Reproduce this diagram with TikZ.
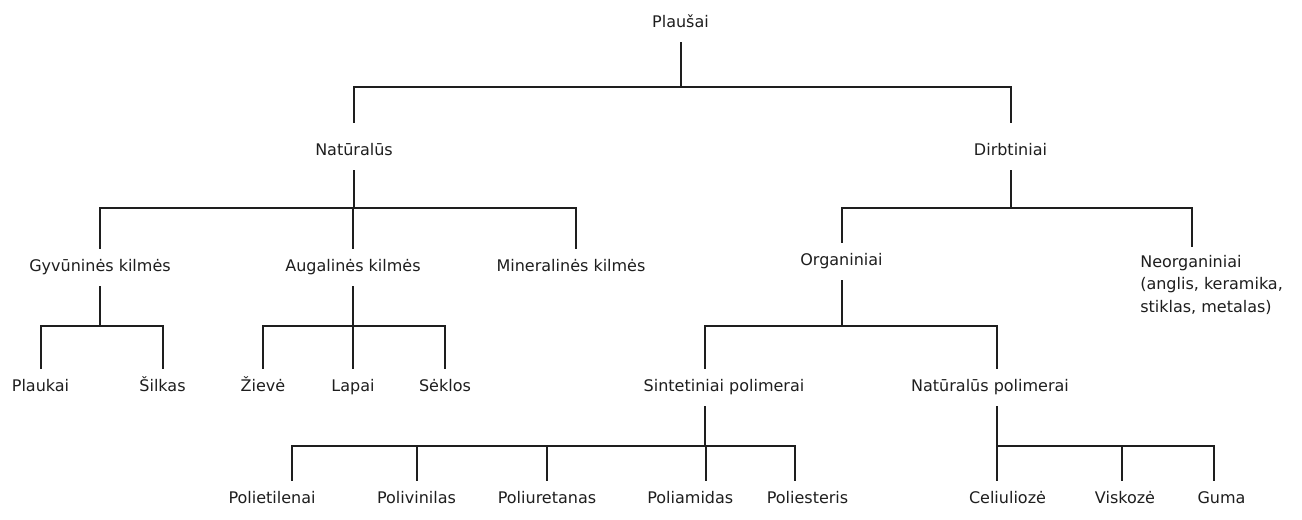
\documentclass[tikz,border=0pt]{standalone}
\usepackage{fontspec}
\setmainfont{DejaVu Sans}
\usepackage{xcolor}
\usepackage{tikz}
\definecolor{inkgray}{HTML}{1E1E1E}
\tikzstyle{lbl} = [inner sep=0,
minimum height=28pt,
text height=9pt,
text depth=2.5pt,
text=inkgray]
\tikzstyle{note} = [inner xsep=0,
inner ysep=6pt,
align=left,
anchor=base west,
text=inkgray]
\tikzstyle{link} = [line width=1.5pt, draw=inkgray]

\begin{document}
\begin{tikzpicture}[x=0.75pt, y=-0.75pt, font=\fontsize{12}{17}\selectfont]
\useasboundingbox [fill=white] (0,0) rectangle (1302,519);

\node (root) [lbl] at (680.5,23.5) {Plaušai};
% level 2
\node (nat) [lbl] at (354,151.5) {Natūralūs};
\node (dirb) [lbl] at (1010.5,151.5) {Dirbtiniai};
% level 3
\node (gyv) [lbl] at (100,267.5) {Gyvūninės kilmės};
\node (aug) [lbl] at (353,267.5) {Augalinės kilmės};
\node (min) [lbl] at (571,267.5) {Mineralinės kilmės};
\node (org) [lbl] at (841.5,261.5) {Organiniai};
% base of the last line
\node (neorg) [note] at (1140,312.5) {Neorganiniai\\(anglis, keramika,\\stiklas, metalas)};
% level 4
\node (plauk) [lbl] at (40.5,387.5) {Plaukai};
\node (silk) [lbl] at (162.5,387.5) {Šilkas};
\node (ziev) [lbl] at (263,387.5) {Žievė};
\node (lap) [lbl] at (353,387.5) {Lapai};
\node (sekl) [lbl] at (445,387.5) {Sėklos};
\node (sint) [lbl] at (724,387.5) {Sintetiniai polimerai};
\node (natp) [lbl] at (990,387.5) {Natūralūs polimerai};
% level 5
\node (poliet) [lbl] at (272,499.5) {Polietilenai};
\node (poliv) [lbl] at (416.5,499.5) {Polivinilas};
\node (poliu) [lbl] at (547,499.5) {Poliuretanas};
\node (polia) [lbl] at (690.3,499.5) {Poliamidas};
\node (poles) [lbl] at (807.5,499.5) {Poliesteris};
\node (cel) [lbl] at (1007.5,499.5) {Celiuliozė};
\node (visk) [lbl] at (1125,499.5) {Viskozė};
\node (guma) [lbl] at (1221.5,499.5) {Guma};

% tree lines
\foreach \n in {nat,dirb}
  \draw [link] (root.south) -- ++(0,45) -| ([yshift=7.5pt]\n.north);
\foreach \n/\s in {gyv/0pt,aug/0pt,min/3.75pt}
  \draw [link] (nat.south) -- ++(0,37.5) -| ([xshift=\s]\n.north);
\foreach \n in {plauk,silk}
  \draw [link] (gyv.south) -- ++(0,39.5) -| (\n.north);
\foreach \n in {ziev,lap,sekl}
  \draw [link] (aug.south) -- ++(0,39.5) -| (\n.north);
\draw [link] (dirb.south) -- ++(0,37.5) -| (org.north);
\draw [link] (dirb.south) -- ++(0,37.5) -| ([xshift=38.8pt]neorg.north west);
\foreach \n/\s in {sint/-13.9pt,natp/5.3pt}
  \draw [link] (org.south) -- ++(0,45.5) -| ([xshift=\s]\n.north);
\foreach \n/\s in {poliet/15pt,poliv/0pt,poliu/0pt,polia/11.5pt,poles/-9.4pt}
  \draw [link] ([xshift=-13.9pt]sint.south) -- ++(0,40) -| ([xshift=\s]\n.north);
\foreach \n/\s in {cel/-7.9pt,visk/-2.25pt,guma/-5.6pt}
  \draw [link] ([xshift=5.3pt]natp.south) -- ++(0,40) -| ([xshift=\s]\n.north);

\end{tikzpicture}
\end{document}
